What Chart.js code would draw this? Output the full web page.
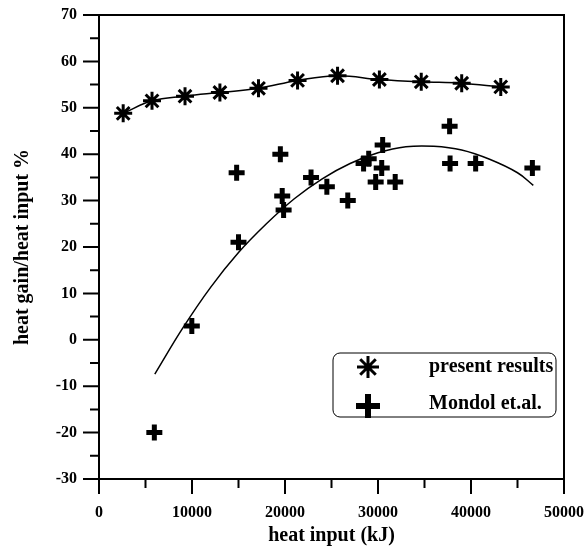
<!DOCTYPE html>
<html>
<head>
<meta charset="utf-8">
<script src="https://cdn.jsdelivr.net/npm/chart.js@4/dist/chart.umd.min.js"></script>
<style>
  html, body { margin: 0; padding: 0; background: #fff; }
  #wrap { width: 588px; height: 552px; }
</style>
</head>
<body>
<div id="wrap"><canvas id="heatChart"></canvas></div>
<script>
// Data
// **************************************
const presentX = [2600, 5700, 9250, 13000, 17150, 21350, 25650, 30150, 34650, 39000, 43200];
const presentY = [48.8, 51.5, 52.5, 53.3, 54.2, 55.9, 56.9, 56.1, 55.6, 55.3, 54.5];

const mondolX = [5950, 9980, 14800, 15000, 19500, 19700, 19850, 22800, 24500, 26750,
  28450, 29000, 29750, 30400, 30500, 31850, 37700, 37750, 40500, 46600];
const mondolY = [-20, 3, 36, 21, 40, 31, 28, 35, 33, 30,
  38, 39, 34, 37, 42, 34, 46, 38, 38, 37];

// fitted curve through Mondol et.al. points
const fitX = [6000, 9000, 12000, 15000, 18000, 21000, 24000, 27000, 30000, 33000, 36000, 39000, 42000, 45000, 46700];
const fitY = [-7.4, 2.5, 11.3, 18.8, 25.0, 30.4, 34.7, 38.0, 40.3, 41.6, 41.7, 40.9, 38.9, 36.0, 33.3];

const xTicks = [0, 10000, 20000, 30000, 40000, 50000];
const yTicks = [-30, -20, -10, 0, 10, 20, 30, 40, 50, 60, 70];

const toPts = (xs, ys) => xs.map((x, i) => ({ x: x, y: ys[i] }));

const FONT = "'Liberation Serif', 'Times New Roman', serif";

// Frame, outward major/minor ticks, and boxed legend
// **************************************
const framePlugin = {
  id: 'frame',
  afterDraw(chart) {
    const ctx = chart.ctx;
    const a = chart.chartArea;
    const xs = chart.scales.x;
    const ys = chart.scales.y;
    ctx.save();
    ctx.strokeStyle = '#000';
    ctx.lineWidth = 2;
    ctx.strokeRect(a.left, a.top, a.right - a.left, a.bottom - a.top);

    ctx.beginPath();
    for (let v = xs.min; v <= xs.max; v += 5000) {
      const px = xs.getPixelForValue(v);
      const len = v % 10000 === 0 ? 15 : 9;
      ctx.moveTo(px, a.bottom);
      ctx.lineTo(px, a.bottom + len);
    }
    for (let v = ys.min; v <= ys.max; v += 5) {
      const py = ys.getPixelForValue(v);
      const len = v % 10 === 0 ? 16 : 9;
      ctx.moveTo(a.left, py);
      ctx.lineTo(a.left - len, py);
    }
    ctx.stroke();

    // legend box
    const bx = a.right - 231, by = a.top + 338, bw = 223, bh = 64;
    ctx.lineWidth = 1;
    ctx.beginPath();
    ctx.roundRect(bx, by, bw, bh, 7);
    ctx.stroke();

    const items = chart.data.datasets.filter(d => d.inLegend);
    items.forEach((d, i) => {
      const cy = by + 14 + i * 39;
      ctx.strokeStyle = '#000';
      ctx.fillStyle = '#000';
      ctx.lineWidth = d.legendWidth;
      Chart.helpers.drawPoint(ctx, {
        pointStyle: d.pointStyle,
        radius: d.legendRadius,
        borderWidth: d.legendWidth,
        rotation: 0,
      }, bx + 35, cy);
      ctx.font = 'bold 20px ' + FONT;
      ctx.textBaseline = 'middle';
      ctx.textAlign = 'left';
      ctx.fillText(d.label, bx + 96, cy - (i ? 2 : 0));
    });
    ctx.restore();
  },
};

const noPad = (s) => {
  s.paddingTop = 0;
  s.paddingBottom = 0;
  s.paddingLeft = 0;
  s.paddingRight = 0;
};

const config = {
  type: 'scatter',
  data: {
    datasets: [
      {
        label: 'Mondol fit',
        data: toPts(fitX, fitY),
        showLine: true,
        tension: 0.4,
        borderColor: '#000',
        borderWidth: 1.5,
        pointRadius: 0,
      },
      {
        label: 'present results',
        inLegend: true,
        data: toPts(presentX, presentY),
        showLine: true,
        tension: 0.4,
        borderColor: '#000',
        backgroundColor: '#000',
        borderWidth: 1.5,
        pointStyle: 'star',
        pointRadius: 9,
        pointBorderWidth: 3,
        legendRadius: 11,
        legendWidth: 3,
      },
      {
        label: 'Mondol et.al.',
        inLegend: true,
        data: toPts(mondolX, mondolY),
        borderColor: '#000',
        backgroundColor: '#000',
        pointStyle: 'cross',
        pointRadius: 8,
        pointBorderWidth: 5,
        legendRadius: 12,
        legendWidth: 6,
      },
    ],
  },
  options: {
    responsive: true,
    maintainAspectRatio: false,
    animation: false,
    layout: { padding: { top: 15, right: 24, left: 0, bottom: 0 } },
    plugins: {
      legend: { display: false },
      tooltip: { enabled: false },
    },
    scales: {
      x: {
        type: 'linear',
        min: 0,
        max: 50000,
        afterFit: (s) => { s.height = 73; noPad(s); },
        afterBuildTicks: (s) => { s.ticks = xTicks.map(v => ({ value: v })); },
        grid: { display: false, drawTicks: false },
        border: { display: false },
        ticks: {
          padding: 24,
          color: '#000',
          font: { family: FONT, size: 16, weight: 'bold' },
          callback: (v) => String(v),
        },
        title: {
          display: true,
          text: 'heat input (kJ)',
          color: '#000',
          font: { family: FONT, size: 20, weight: 'bold' },
          padding: { top: 0, bottom: 4 },
        },
      },
      y: {
        type: 'linear',
        min: -30,
        max: 70,
        afterFit: (s) => { s.width = 99; noPad(s); },
        afterBuildTicks: (s) => { s.ticks = yTicks.map(v => ({ value: v })); },
        grid: { display: false, drawTicks: false },
        border: { display: false },
        ticks: {
          padding: 22,
          color: '#000',
          font: { family: FONT, size: 16, weight: 'bold' },
        },
        title: {
          display: true,
          text: 'heat gain/heat input %',
          color: '#000',
          font: { family: FONT, size: 20, weight: 'bold' },
          padding: { top: 11, bottom: 0 },
        },
      },
    },
  },
  plugins: [framePlugin],
};

new Chart(document.getElementById('heatChart'), config);
</script>
</body>
</html>
